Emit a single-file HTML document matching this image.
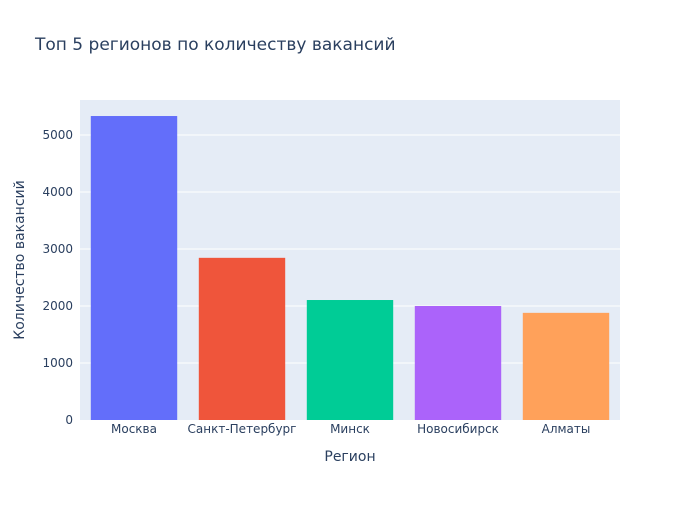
<!DOCTYPE html>
<html><head><meta charset="utf-8"><style>
body{margin:0;background:#fff;}
text{font-family:"DejaVu Sans","Liberation Sans",sans-serif;fill:#2a3f5f;}
</style></head><body>
<svg id="chart" width="700" height="500">
<rect width="700" height="500" fill="#fff"/>
<text x="35" y="50" font-size="17">Топ 5 регионов по количеству вакансий</text>
<rect x="80" y="100" width="540" height="320" fill="#e5ecf6"/>
<g id="grid"></g><g id="bars"></g><g id="xt"></g><g id="yt"></g>
<text x="350" y="461" font-size="14" text-anchor="middle">Регион</text>
<text transform="translate(24,260) rotate(-90)" font-size="14" text-anchor="middle">Количество вакансий</text>
</svg>
<script>
const categories=["Москва","Санкт-Петербург","Минск","Новосибирск","Алматы"];
const values=[5333,2845,2105,2000,1880];
const colors=["#636efa","#EF553B","#00cc96","#ab63fa","#FFA15A"];
const yTicks=[0,1000,2000,3000,4000,5000];
const NS="http://www.w3.org/2000/svg";
const x0=80,w=540,yb=420,ymax=5614,h=320;
const y=v=>yb-v/ymax*h;
const band=w/categories.length,bw=band*0.8;
function mk(t,a,p){const e=document.createElementNS(NS,t);for(const k in a)e.setAttribute(k,a[k]);document.getElementById(p).appendChild(e);return e;}
yTicks.forEach(v=>{
 if(v>0){const l=mk("line",{x1:80,x2:620,y1:y(v),y2:y(v),stroke:"#fff","stroke-width":1},"grid");
 
 }
 const t=mk("text",{x:73,y:y(v)+4,"font-size":12,"text-anchor":"end"},"yt");t.textContent=v;
 
 
});
categories.forEach((c,i)=>{
 const cx=x0+band*(i+0.5);
 const r=mk("rect",{x:cx-bw/2,y:y(values[i]),width:bw,height:yb-y(values[i]),fill:colors[i]},"bars");
 
 
 const t=mk("text",{x:cx,y:433,"font-size":12,"text-anchor":"middle"},"xt");t.textContent=c;
 
 
});
</script>
</body></html>
